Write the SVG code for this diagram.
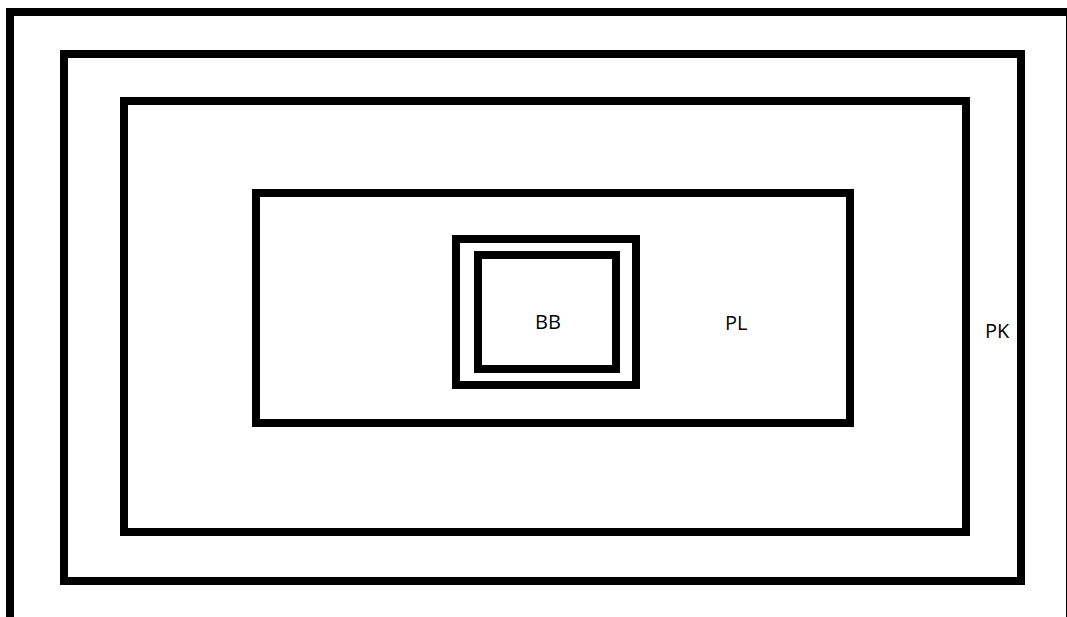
<svg xmlns="http://www.w3.org/2000/svg" width="1067" height="617" viewBox="0 0 1067 617">
<style>
.box{fill:none;stroke:#000;stroke-width:8}
.lbl{font-family:"Open Sans","Liberation Sans",Arial,sans-serif;font-size:20px;fill:#000}
</style>
<rect width="1067" height="617" fill="#fff"/>
<g id="outer"><rect class="box" x="10" y="12" width="1060" height="620"/></g>
<g id="PK"><rect class="box" x="64" y="54" width="957" height="527"/><text class="lbl" x="985" y="338">PK</text></g>
<g id="ring3"><rect class="box" x="124" y="101" width="842" height="431"/></g>
<g id="PL"><rect class="box" x="256" y="193" width="594" height="230"/><text class="lbl" x="725" y="330">PL</text></g>
<g id="BB-outer"><rect class="box" x="456" y="239" width="180" height="146"/></g>
<g id="BB"><rect class="box" x="478" y="255" width="138" height="114"/><text class="lbl" x="535" y="329">BB</text></g>
<g id="connectors"></g>
</svg>
